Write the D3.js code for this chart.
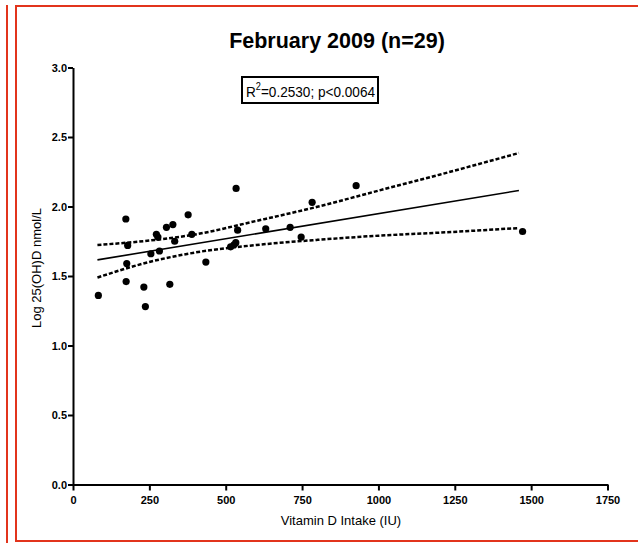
<!DOCTYPE html>
<html>
<head>
<meta charset="utf-8">
<style>
    body
    {
        margin:0;
        background:#ffffff;
    }
    text
    {
        font-family:"Liberation Sans", Arial, sans-serif;
    }
</style>
<script src="https://d3js.org/d3.v7.min.js"></script>
</head>
<body>
<svg id="chart"></svg>
<script>
    // vitamin D intake (IU) and log 25(OH)D for each subject
    var intake = [83, 173, 179, 176, 174, 232, 237, 255, 273, 278, 283, 306, 327, 333, 317,
                  377, 389, 435, 534, 539, 516, 533, 527, 631, 711, 747, 783, 927, 1472];
    var logVitD = [1.36, 1.91, 1.72, 1.59, 1.46, 1.42, 1.28, 1.66, 1.80, 1.78, 1.68, 1.85, 1.87, 1.75, 1.44,
                   1.94, 1.80, 1.60, 2.13, 1.83, 1.71, 1.74, 1.725, 1.84, 1.85, 1.78, 2.03, 2.15, 1.82];

    // regression line and 95% confidence band
    var fitX = [80, 1460];
    var fitY = [1.616, 2.115];
    var bandX = [80, 250, 400, 600, 800, 1000, 1200, 1460];
    var bandUpper = [1.723, 1.755, 1.799, 1.896, 1.998, 2.114, 2.229, 2.385];
    var bandLower = [1.489, 1.601, 1.669, 1.723, 1.760, 1.790, 1.812, 1.845];

    var xTicks = [0, 250, 500, 750, 1000, 1250, 1500, 1750];
    var yTicks = [0.0, 0.5, 1.0, 1.5, 2.0, 2.5, 3.0];

    var title = "February 2009 (n=29)";
    var xTitle = "Vitamin D Intake (IU)";
    var yTitle = "Log 25(OH)D nmol/L";

    var screen = {width:638, height:543};
    var red = "#e2341c";

    var svg = d3.select("#chart")
        .attr("width", screen.width)
        .attr("height", screen.height);

    // red frames
    svg.append("line")
        .attr("x1", 7).attr("x2", 7)
        .attr("y1", 5).attr("y2", screen.height)
        .attr("stroke", red).attr("stroke-width", 2);
    svg.append("rect")
        .attr("x", 16).attr("y", 6)
        .attr("width", 640).attr("height", 535)
        .attr("fill", "none")
        .attr("stroke", red).attr("stroke-width", 2);

    var xScale = d3.scaleLinear()
        .domain([0, 1750])
        .range([73, 607.5]);
    var yScale = d3.scaleLinear()
        .domain([0, 3])
        .range([484.5, 67.5]);

    // title
    svg.append("text")
        .attr("x", 337).attr("y", 48)
        .attr("text-anchor", "middle")
        .attr("font-size", 21.5)
        .attr("font-weight", "bold")
        .text(title);

    // R squared box
    svg.append("rect")
        .attr("x", 242).attr("y", 77)
        .attr("width", 136).attr("height", 26)
        .attr("fill", "white")
        .attr("stroke", "black").attr("stroke-width", 2);
    var stat = svg.append("text")
        .attr("x", 246).attr("y", 97)
        .attr("font-size", 15.5)
        .attr("textLength", 129)
        .attr("lengthAdjust", "spacingAndGlyphs");
    stat.append("tspan").text("R");
    stat.append("tspan").attr("dy", -7).attr("font-size", 10.5).text("2");
    stat.append("tspan").attr("dy", 7).text("=0.2530; p<0.0064");

    // axes
    var xAxis = svg.append("g")
        .attr("transform", "translate(0," + yScale(0) + ")")
        .call(d3.axisBottom(xScale).tickValues(xTicks).tickSize(6).tickSizeOuter(0).tickFormat(d3.format("d")));
    var yAxis = svg.append("g")
        .attr("transform", "translate(" + xScale(0) + ",0)")
        .call(d3.axisLeft(yScale).tickValues(yTicks).tickSize(5).tickSizeOuter(0).tickFormat(d3.format(".1f")));

    [xAxis, yAxis].forEach(function(g)
    {
        g.select(".domain").attr("stroke", "black").attr("stroke-width", 2);
        g.selectAll(".tick line").attr("stroke", "black").attr("stroke-width", 2);
        g.selectAll(".tick text")
            .attr("font-family", "Liberation Sans, Arial, sans-serif")
            .attr("font-size", 11)
            .attr("font-weight", "bold")
            .attr("fill", "black");
    });
    xAxis.selectAll(".tick text").attr("dy", "0.95em");
    yAxis.selectAll(".tick text").attr("x", -6);

    // axis titles
    svg.append("text")
        .attr("x", 341).attr("y", 525)
        .attr("text-anchor", "middle")
        .attr("font-size", 13)
        .text(xTitle);
    svg.append("text")
        .attr("transform", "translate(41,268) rotate(-90)")
        .attr("text-anchor", "middle")
        .attr("font-size", 13)
        .text(yTitle);

    // fit line and band
    var fit = fitX.map(function(x, i) { return [x, fitY[i]]; });
    var upper = bandX.map(function(x, i) { return [x, bandUpper[i]]; });
    var lower = bandX.map(function(x, i) { return [x, bandLower[i]]; });

    var line = d3.line()
        .x(function(d) { return xScale(d[0]); })
        .y(function(d) { return yScale(d[1]); })
        .curve(d3.curveMonotoneX);

    svg.append("path")
        .attr("d", line(fit))
        .attr("fill", "none")
        .attr("stroke", "black")
        .attr("stroke-width", 1.6);

    svg.selectAll(".band")
        .data([upper, lower])
        .enter()
        .append("path")
        .attr("class", "band")
        .attr("d", line)
        .attr("fill", "none")
        .attr("stroke", "black")
        .attr("stroke-width", 2.5)
        .attr("stroke-dasharray", "4,2");

    // points
    svg.selectAll("circle")
        .data(intake)
        .enter()
        .append("circle")
        .attr("cx", function(d) { return xScale(d); })
        .attr("cy", function(d, i) { return yScale(logVitD[i]); })
        .attr("r", 3.6)
        .attr("fill", "black");
</script>
</body>
</html>
